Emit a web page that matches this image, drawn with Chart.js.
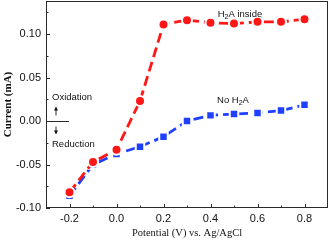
<!DOCTYPE html>
<html>
<head>
<meta charset="utf-8">
<script src="https://cdn.jsdelivr.net/npm/chart.js@4.4.1/dist/chart.umd.min.js"></script>
<style>
  html, body { margin: 0; padding: 0; background: #fff; }
  #wrap { width: 331px; height: 246px; position: relative; }
</style>
</head>
<body>
<div id="wrap"><canvas id="cv"></canvas></div>
<script>
const potentials = [-0.2, -0.1, 0.0, 0.1, 0.2, 0.3, 0.4, 0.5, 0.6, 0.7, 0.8];
const withH2A = [-0.082, -0.047, -0.033, 0.023, 0.111, 0.116, 0.113, 0.112, 0.114, 0.114, 0.117];
const noH2A = [-0.086, -0.050, -0.038, -0.0295, -0.018, 0.000, 0.0065, 0.008, 0.0093, 0.012, 0.0186];
const xTicks = [-0.2, 0.0, 0.2, 0.4, 0.6, 0.8];
const xMinor = [-0.1, 0.1, 0.3, 0.5, 0.7];
const yTicks = [-0.10, -0.05, 0.00, 0.05, 0.10];
const yMinor = [-0.075, -0.025, 0.025, 0.075, 0.125];

const RED = 'rgb(255,22,22)';
const BLUE = 'rgb(32,64,255)';
const AXIS = '#2a2a2a';

const pts = arr => potentials.map((x, i) => ({ x: x, y: arr[i] }));

// frame, inward ticks and the text notes
const decor = {
    id: 'decor',
    afterDraw(chart) {
        const ctx = chart.ctx;
        const a = chart.chartArea;
        const xs = chart.scales.x, ys = chart.scales.y;
        ctx.save();
        ctx.strokeStyle = AXIS;
        ctx.lineWidth = 1;
        ctx.strokeRect(Math.round(a.left) + 0.5, Math.round(a.top) + 0.5,
            Math.round(a.right - a.left) - 1, Math.round(a.bottom - a.top) - 1);

        ctx.beginPath();
        xTicks.concat(xMinor).forEach(v => {
            const len = xTicks.includes(v) ? 4 : 2.5;
            const px = Math.round(xs.getPixelForValue(v)) + 0.5;
            ctx.moveTo(px, a.bottom);
            ctx.lineTo(px, a.bottom - len);
        });
        yTicks.concat(yMinor).forEach(v => {
            const len = yTicks.includes(v) ? 4 : 2.5;
            const py = Math.round(ys.getPixelForValue(v)) + 0.5;
            ctx.moveTo(a.left, py);
            ctx.lineTo(a.left + len, py);
        });
        ctx.stroke();

        // oxidation / reduction marker at zero current
        const y0 = Math.round(ys.getPixelForValue(0)) + 0.5;
        const ax = a.left + 10;
        ctx.beginPath();
        ctx.moveTo(a.left, y0);
        ctx.lineTo(a.left + 23, y0);
        ctx.moveTo(ax, y0 - 6);
        ctx.lineTo(ax, y0 - 12);
        ctx.moveTo(ax, y0 + 5);
        ctx.lineTo(ax, y0 + 11);
        ctx.stroke();
        ctx.fillStyle = '#111';
        ctx.beginPath();
        ctx.moveTo(ax, y0 - 15); ctx.lineTo(ax - 2, y0 - 11); ctx.lineTo(ax + 2, y0 - 11); ctx.closePath();
        ctx.moveTo(ax, y0 + 13); ctx.lineTo(ax - 2, y0 + 9); ctx.lineTo(ax + 2, y0 + 9); ctx.closePath();
        ctx.fill();

        ctx.font = '9.5px "Liberation Sans", Arial, sans-serif';
        ctx.textBaseline = 'middle';
        ctx.textAlign = 'left';
        ctx.fillText('Oxidation', a.left + 6, y0 - 24);
        ctx.fillText('Reduction', a.left + 6, y0 + 23);

        // labels with subscript 2
        const sub = (x, y, pre, post) => {
            ctx.font = '9.5px "Liberation Sans", Arial, sans-serif';
            const w1 = ctx.measureText(pre).width;
            ctx.font = '7px "Liberation Sans", Arial, sans-serif';
            const w2 = ctx.measureText('2').width;
            ctx.font = '9.5px "Liberation Sans", Arial, sans-serif';
            const w3 = ctx.measureText(post).width;
            let cx = x - (w1 + w2 + w3) / 2;
            ctx.fillText(pre, cx, y); cx += w1;
            ctx.font = '7px "Liberation Sans", Arial, sans-serif';
            ctx.fillText('2', cx, y + 3); cx += w2;
            ctx.font = '9.5px "Liberation Sans", Arial, sans-serif';
            ctx.fillText(post, cx, y);
        };
        sub(240, 14, 'H', 'A inside');
        sub(233, 100, 'No H', 'A');
        ctx.restore();
    }
};

new Chart(document.getElementById('cv'), {
    type: 'line',
    data: {
        datasets: [
            {
                label: 'H2A inside',
                data: pts(withH2A),
                borderColor: RED,
                backgroundColor: RED,
                borderWidth: 2.8,
                borderDash: [10, 5],
                pointStyle: 'circle',
                pointRadius: 5,
                pointBorderColor: '#fff',
                pointBorderWidth: 2,
                pointBackgroundColor: RED
            },
            {
                label: 'No H2A',
                data: pts(noH2A),
                borderColor: BLUE,
                backgroundColor: BLUE,
                borderWidth: 2.8,
                borderDash: [10, 5],
                pointStyle: 'rect',
                pointRadius: 6,
                pointBorderColor: '#fff',
                pointBorderWidth: 2,
                pointBackgroundColor: BLUE
            }
        ]
    },
    options: {
        responsive: true,
        maintainAspectRatio: false,
        animation: false,
        layout: { autoPadding: false, padding: { top: 1, right: 3, left: 0, bottom: 0 } },
        plugins: { legend: { display: false }, tooltip: { enabled: false } },
        scales: {
            x: {
                type: 'linear',
                min: -0.3,
                max: 0.9,
                afterBuildTicks: s => { s.ticks = xTicks.map(v => ({ value: v })); },
                afterFit: s => { s.height = 38; s.paddingLeft = 0; s.paddingRight = 0; },
                grid: { display: false, drawTicks: false },
                border: { display: false },
                ticks: {
                    color: '#111',
                    padding: 4,
                    font: { family: '"Liberation Sans", Arial, sans-serif', size: 11 },
                    callback: v => v.toFixed(1)
                },
                title: {
                    display: true,
                    text: 'Potential (V) vs. Ag/AgCl',
                    color: '#111',
                    font: { family: '"Liberation Serif", "Times New Roman", serif', size: 10.5 },
                    padding: { top: 0, bottom: 6 }
                }
            },
            y: {
                min: -0.1,
                max: 0.138,
                afterBuildTicks: s => { s.ticks = yTicks.map(v => ({ value: v })); },
                afterFit: s => { s.width = 46; s.paddingTop = 0; s.paddingBottom = 0; },
                grid: { display: false, drawTicks: false },
                border: { display: false },
                ticks: {
                    color: '#111',
                    padding: 5,
                    font: { family: '"Liberation Sans", Arial, sans-serif', size: 11 },
                    callback: v => v.toFixed(2)
                },
                title: {
                    display: true,
                    text: 'Current (mA)',
                    color: '#111',
                    font: { family: '"Liberation Serif", "Times New Roman", serif', size: 11, weight: 'bold' },
                    padding: { top: 2, bottom: 2 }
                }
            }
        }
    },
    plugins: [decor]
});
</script>
</body>
</html>
